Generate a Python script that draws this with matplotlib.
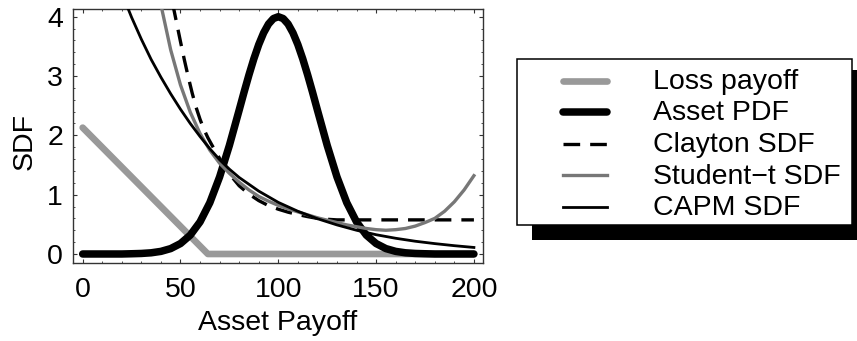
import numpy as np
import matplotlib
matplotlib.use('Agg')
import matplotlib.pyplot as plt
from matplotlib.lines import Line2D
from matplotlib.patches import Rectangle
from matplotlib.ticker import MultipleLocator

plt.rcParams['font.family'] = ['Liberation Sans', 'DejaVu Sans']

# --- data ---
loss_x = [0, 64, 200]
loss_y = [2.13, 0.0, 0.0]

pdf_x = [0, 5, 10, 15, 20, 25, 30, 35, 40, 45, 50, 55, 60, 65, 70, 75,
         80, 82.5, 85, 87.5, 90, 92.5, 95, 97.5, 100, 102.5, 105, 107.5,
         110, 112.5, 115, 117.5, 120, 125, 130, 135, 140, 145, 150, 155,
         160, 165, 170, 175, 180, 185, 190, 195, 200]
pdf_y = [0, 0, 0, 0, 0, 0.004, 0.009, 0.020, 0.044, 0.091, 0.176, 0.318,
         0.541, 0.865, 1.299, 1.831, 2.426, 2.728, 3.019, 3.290, 3.530,
         3.728, 3.877, 3.969, 4.0, 3.969, 3.877, 3.728, 3.530, 3.290,
         3.019, 2.728, 2.426, 1.831, 1.299, 0.865, 0.541, 0.318, 0.176,
         0.091, 0.044, 0.020, 0.009, 0.004, 0, 0, 0, 0, 0]

clayton_x = [46, 48, 50, 52, 54, 56, 58, 60, 62, 64, 66, 70, 75, 80, 85,
             90, 95, 100, 105, 110, 115, 120, 125, 130, 200]
clayton_y = [4.22, 3.90, 3.58, 3.27, 2.98, 2.71, 2.47, 2.27, 2.10, 1.96,
             1.84, 1.61, 1.35, 1.15, 1.01, 0.90, 0.815, 0.755, 0.705, 0.665,
             0.63, 0.60, 0.585, 0.575, 0.575]

student_x = [40, 45, 50, 55, 60, 65, 70, 75, 80, 85, 90, 95, 100, 105, 110,
             115, 120, 125, 130, 135, 140, 145, 150, 155, 160, 165, 170,
             175, 180, 185, 190, 195, 200]
student_y = [4.20, 3.44, 2.85, 2.39, 2.03, 1.75, 1.53, 1.36, 1.21, 1.08,
             0.97, 0.89, 0.82, 0.76, 0.71, 0.66, 0.61, 0.57, 0.53, 0.49,
             0.46, 0.43, 0.41, 0.40, 0.41, 0.43, 0.47, 0.53, 0.60, 0.72,
             0.88, 1.08, 1.32]

capm_x = [20, 25, 30, 35, 40, 45, 50, 55, 60, 65, 70, 75, 80, 90, 100, 110,
          120, 130, 140, 150, 160, 170, 180, 190, 200]
capm_y = [4.40, 3.99, 3.62, 3.28, 2.98, 2.70, 2.44, 2.20, 1.98, 1.775,
          1.59, 1.43, 1.29, 1.06, 0.87, 0.72, 0.595, 0.49, 0.40, 0.325,
          0.265, 0.215, 0.175, 0.14, 0.11]

labels = ['Loss payoff', 'Asset PDF', 'Clayton SDF', 'Student\u2212t SDF',
          'CAPM SDF']

# --- styles ---
W, H = 857, 341
styles = [
    dict(color='#999999', lw=4.8, solid_capstyle='round'),
    dict(color='black', lw=5.4, solid_capstyle='round'),
    dict(color='black', lw=2.4, dashes=(5, 3)),
    dict(color='#777777', lw=2.4),
    dict(color='black', lw=2.0),
]


def fx(px):
    return px / W


def fy(py):
    return 1 - py / H


fig = plt.figure(figsize=(W / 100, H / 100), dpi=100)
ax = fig.add_axes([fx(72.7), fy(263.3), fx(483.3) - fx(72.7),
                   fy(9.3) - fy(263.3)])

series = [(loss_x, loss_y), (pdf_x, pdf_y), (clayton_x, clayton_y),
          (student_x, student_y), (capm_x, capm_y)]
for i, ((xs, ys), st) in enumerate(zip(series, styles)):
    ax.plot(xs, ys, zorder=2 + i, **st)

ax.set_xlim(-5.1, 204.8)
ax.set_ylim(-0.157, 4.125)
ax.set_xticks([0, 50, 100, 150, 200])
ax.set_yticks([0, 1, 2, 3, 4])
ax.xaxis.set_minor_locator(MultipleLocator(10))
ax.yaxis.set_minor_locator(MultipleLocator(0.2))
ax.tick_params(which='both', direction='in', top=True, right=True,
               color='#333333', labelsize=20.5)
ax.tick_params(which='major', length=2.6, width=0.8)
ax.tick_params(which='minor', length=1.6, width=0.6)
ax.tick_params(axis='x', pad=10)
ax.tick_params(axis='y', pad=7)
for sp in ax.spines.values():
    sp.set_color('#333333')
    sp.set_linewidth(1.0)

ax.set_xlabel('Asset Payoff', fontsize=20.5)
ax.set_ylabel('SDF', fontsize=20.5)
ax.xaxis.set_label_coords(0.5, -0.185)
ax.yaxis.set_label_coords(-0.0845, 0.48)

# --- legend box with offset shadow ---
fig.add_artist(Rectangle((fx(531.7), fy(240)), fx(870) - fx(531.7),
                         fy(70) - fy(240), transform=fig.transFigure,
                         facecolor='black', edgecolor='none'))
fig.add_artist(Rectangle((fx(516.7), fy(225)), fx(851.7) - fx(516.7),
                         fy(59.3) - fy(225), transform=fig.transFigure,
                         facecolor='white', edgecolor='black', lw=1.1))
for i, (lab, st) in enumerate(zip(labels, styles)):
    base = 89 + 31.5 * i
    ly = base - 8.5
    fig.add_artist(Line2D([fx(563), fx(607)], [fy(ly), fy(ly)],
                          transform=fig.transFigure, **st))
    fig.text(fx(653), fy(base), lab, fontsize=20.5, va='baseline',
             ha='left')

fig.savefig('out.png', dpi=100)
